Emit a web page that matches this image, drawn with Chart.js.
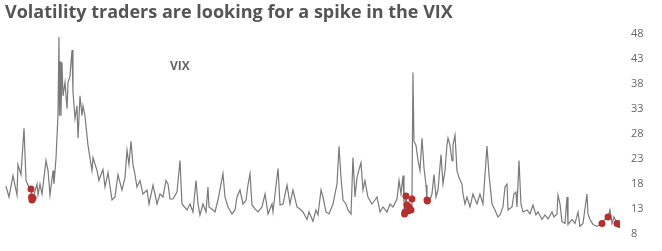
<!DOCTYPE html>
<html lang="en">
<head>
    <meta charset="UTF-8">
    <title>Volatility traders are looking for a spike in the VIX</title>
    <script src="https://cdn.jsdelivr.net/npm/chart.js"></script>
    <style>
        body { margin: 0; background: #fff; }
        #wrap { width: 662px; height: 251px; }
    </style>
</head>
<body>
    <div id="wrap"><canvas id="vixChart"></canvas></div>
    <script>
        // Time as decimal years, VIX close
        const years = [
            2011.011, 2011.045, 2011.090, 2011.135, 2011.146, 2011.180, 2011.214, 2011.237, 2011.270, 2011.293,
            2011.299, 2011.304, 2011.316, 2011.361, 2011.372, 2011.394, 2011.417, 2011.462, 2011.485, 2011.507,
            2011.541, 2011.552, 2011.575, 2011.597, 2011.608, 2011.614, 2011.620, 2011.631, 2011.642, 2011.654,
            2011.676, 2011.699, 2011.710, 2011.732, 2011.755, 2011.766, 2011.789, 2011.811, 2011.823, 2011.845,
            2011.868, 2011.879, 2011.901, 2011.935, 2011.980, 2011.992, 2012.037, 2012.059, 2012.070, 2012.104,
            2012.127, 2012.161, 2012.206, 2012.239, 2012.273, 2012.318, 2012.352, 2012.375, 2012.397, 2012.420,
            2012.442, 2012.465, 2012.487, 2012.521, 2012.555, 2012.600, 2012.623, 2012.668, 2012.713, 2012.747,
            2012.780, 2012.814, 2012.837, 2012.859, 2012.893, 2012.938, 2012.972, 2012.994, 2013.051, 2013.085,
            2013.118, 2013.152, 2013.175, 2013.197, 2013.231, 2013.265, 2013.287, 2013.299, 2013.344, 2013.366,
            2013.400, 2013.434, 2013.456, 2013.479, 2013.513, 2013.558, 2013.592, 2013.614, 2013.648, 2013.682,
            2013.716, 2013.738, 2013.761, 2013.783, 2013.817, 2013.851, 2013.896, 2013.930, 2013.964, 2014.009,
            2014.020, 2014.054, 2014.077, 2014.099, 2014.133, 2014.178, 2014.211, 2014.245, 2014.290, 2014.324,
            2014.358, 2014.403, 2014.426, 2014.470, 2014.504, 2014.527, 2014.561, 2014.583, 2014.617, 2014.651,
            2014.696, 2014.718, 2014.741, 2014.764, 2014.786, 2014.809, 2014.842, 2014.865, 2014.899, 2014.921,
            2014.944, 2014.966, 2014.989, 2015.011, 2015.034, 2015.056, 2015.090, 2015.135, 2015.169, 2015.192,
            2015.226, 2015.259, 2015.304, 2015.338, 2015.372, 2015.417, 2015.440, 2015.462, 2015.485, 2015.496,
            2015.502, 2015.518, 2015.530, 2015.541, 2015.552, 2015.575, 2015.586, 2015.597, 2015.608, 2015.631,
            2015.654, 2015.676, 2015.699, 2015.721, 2015.744, 2015.755, 2015.789, 2015.811, 2015.834, 2015.857,
            2015.879, 2015.913, 2015.935, 2015.958, 2015.980, 2015.992, 2016.014, 2016.037, 2016.048, 2016.071,
            2016.093, 2016.116, 2016.149, 2016.161, 2016.183, 2016.206, 2016.240, 2016.273, 2016.318, 2016.352,
            2016.386, 2016.409, 2016.431, 2016.454, 2016.488, 2016.521, 2016.555, 2016.578, 2016.611, 2016.634,
            2016.657, 2016.668, 2016.713, 2016.735, 2016.758, 2016.769, 2016.792, 2016.814, 2016.837, 2016.882,
            2016.916, 2016.949, 2016.983, 2017.006, 2017.051, 2017.085, 2017.119, 2017.164, 2017.186, 2017.220,
            2017.231, 2017.254, 2017.276, 2017.310, 2017.333, 2017.344, 2017.389, 2017.423, 2017.457, 2017.479,
            2017.513, 2017.558, 2017.569, 2017.592, 2017.626, 2017.671, 2017.727, 2017.761, 2017.795, 2017.817,
            2017.840, 2017.862, 2017.896, 2017.930
        ];
        const vix = [
            17.5, 15.3, 19.6, 15.7, 21.8, 19.8, 29.1, 18.6, 17.3, 16.9,
            15.3, 14.7, 15.1, 17.9, 15.7, 17.9, 15.9, 22.6, 20.6, 15.7,
            20.6, 17.9, 23.2, 31.6, 47.4, 31.6, 42.5, 31.6, 42.3, 35.6,
            38.3, 33.0, 38.3, 39.5, 44.8, 36.4, 31.0, 33.6, 27.1, 35.6,
            31.6, 33.6, 31.6, 25.7, 20.6, 23.2, 20.6, 18.6, 19.2, 20.8,
            17.3, 20.2, 14.7, 15.3, 19.8, 16.7, 19.2, 24.7, 21.8, 26.5,
            21.8, 19.8, 17.3, 18.6, 15.9, 16.7, 13.9, 17.7, 13.9, 15.9,
            15.3, 18.6, 17.9, 14.9, 14.9, 16.3, 22.6, 13.9, 12.7, 13.9,
            12.3, 18.6, 13.9, 11.7, 13.9, 12.3, 17.3, 13.3, 12.7, 12.3,
            14.7, 17.9, 20.0, 15.3, 13.3, 11.9, 12.7, 15.3, 16.7, 13.9,
            14.7, 17.7, 20.0, 13.7, 12.9, 12.3, 13.3, 15.9, 11.9, 13.9,
            12.3, 17.7, 21.0, 13.7, 13.9, 17.7, 13.9, 16.7, 13.3, 12.9,
            12.3, 10.8, 12.3, 10.4, 12.7, 11.7, 16.7, 15.3, 12.3, 11.9,
            13.9, 15.9, 17.9, 25.5, 19.2, 14.7, 13.9, 12.7, 11.9, 23.2,
            15.3, 19.2, 20.8, 22.2, 16.7, 18.6, 15.3, 13.9, 14.7, 15.3,
            12.3, 13.3, 12.3, 13.9, 13.3, 14.9, 18.6, 15.9, 19.6, 13.9,
            11.9, 15.5, 13.7, 12.5, 13.3, 12.7, 14.9, 40.3, 26.5, 25.7,
            22.6, 20.6, 27.1, 21.2, 17.7, 14.7, 14.7, 15.9, 19.8, 15.3,
            16.7, 23.8, 17.9, 20.6, 25.7, 27.1, 25.7, 22.6, 25.7, 27.7,
            20.6, 19.2, 17.9, 15.9, 13.9, 15.3, 13.3, 15.9, 13.9, 15.9,
            13.9, 19.8, 25.5, 19.8, 13.9, 12.7, 11.3, 11.7, 13.3, 17.3,
            17.9, 12.7, 13.3, 15.9, 16.3, 13.3, 22.6, 13.9, 12.3, 12.7,
            11.9, 13.7, 11.7, 12.3, 10.8, 11.7, 10.9, 12.3, 11.3, 11.9,
            15.7, 13.9, 10.4, 10.0, 15.3, 9.8, 10.8, 10.0, 12.3, 9.4,
            10.0, 15.9, 11.9, 10.8, 9.8, 9.4, 10.0, 10.8, 11.3, 12.7,
            10.0, 11.3, 10.0, 9.8
        ];

        // Days flagged by the signal (red dots)
        const signalYears = [
            2011.293, 2011.299, 2011.304, 2011.316,
            2015.502, 2015.508, 2015.518, 2015.530, 2015.541, 2015.552, 2015.575, 2015.586,
            2015.755, 2015.760,
            2017.727, 2017.795, 2017.896, 2017.915, 2017.930
        ];
        const signalVix = [
            16.9, 15.3, 14.7, 15.1,
            11.9, 12.3, 15.5, 13.7, 12.5, 13.3, 12.7, 14.9,
            14.7, 14.5,
            10.0, 11.3, 10.0, 9.9, 9.8
        ];

        const yTicks = [8, 13, 18, 23, 28, 33, 38, 43, 48];
        const seriesLabel = 'VIX';
        const labelAt = { x: 2012.86, y: 41.5 };

        const seriesName = {
            id: 'seriesName',
            afterDatasetsDraw(chart) {
                const { ctx, scales } = chart;
                ctx.save();
                ctx.font = 'bold 12px "Open Sans"';
                ctx.fillStyle = '#666666';
                ctx.textBaseline = 'middle';
                ctx.textAlign = 'left';
                ctx.fillText(seriesLabel, scales.x.getPixelForValue(labelAt.x), scales.y.getPixelForValue(labelAt.y));
                ctx.restore();
            }
        };

        const ctx = document.getElementById('vixChart').getContext('2d');
        new Chart(ctx, {
            type: 'line',
            data: {
                datasets: [
                    {
                        label: 'Signal',
                        data: signalYears.map((t, i) => ({ x: t, y: signalVix[i] })),
                        showLine: false,
                        pointRadius: 3.5,
                        pointBackgroundColor: '#b3302e',
                        pointBorderWidth: 0,
                        order: 0
                    },
                    {
                        label: seriesLabel,
                        data: years.map((t, i) => ({ x: t, y: vix[i] })),
                        borderColor: '#7a7a7a',
                        borderWidth: 1.2,
                        pointRadius: 0,
                        tension: 0,
                        order: 1
                    }
                ]
            },
            options: {
                responsive: true,
                maintainAspectRatio: false,
                animation: false,
                layout: { padding: { left: 5, bottom: 14 } },
                plugins: {
                    legend: { display: false },
                    tooltip: { enabled: false },
                    title: {
                        display: true,
                        text: 'Volatility traders are looking for a spike in the VIX',
                        align: 'start',
                        color: '#555555',
                        font: { family: '"Open Sans"', size: 18, weight: 'bold' },
                        padding: { top: 2, bottom: 10.4 }
                    }
                },
                scales: {
                    x: { type: 'linear', display: false, min: 2011.0, max: 2017.93 },
                    y: {
                        position: 'right',
                        min: 8,
                        max: 48,
                        afterFit: s => { s.width = 42; },
                        afterBuildTicks: s => { s.ticks = yTicks.map(v => ({ value: v })); },
                        grid: { display: false, drawTicks: false },
                        border: { display: false },
                        ticks: { color: '#666666', padding: 11, font: { family: '"Open Sans"', size: 11 } }
                    }
                }
            },
            plugins: [seriesName]
        });
    </script>
</body>
</html>
